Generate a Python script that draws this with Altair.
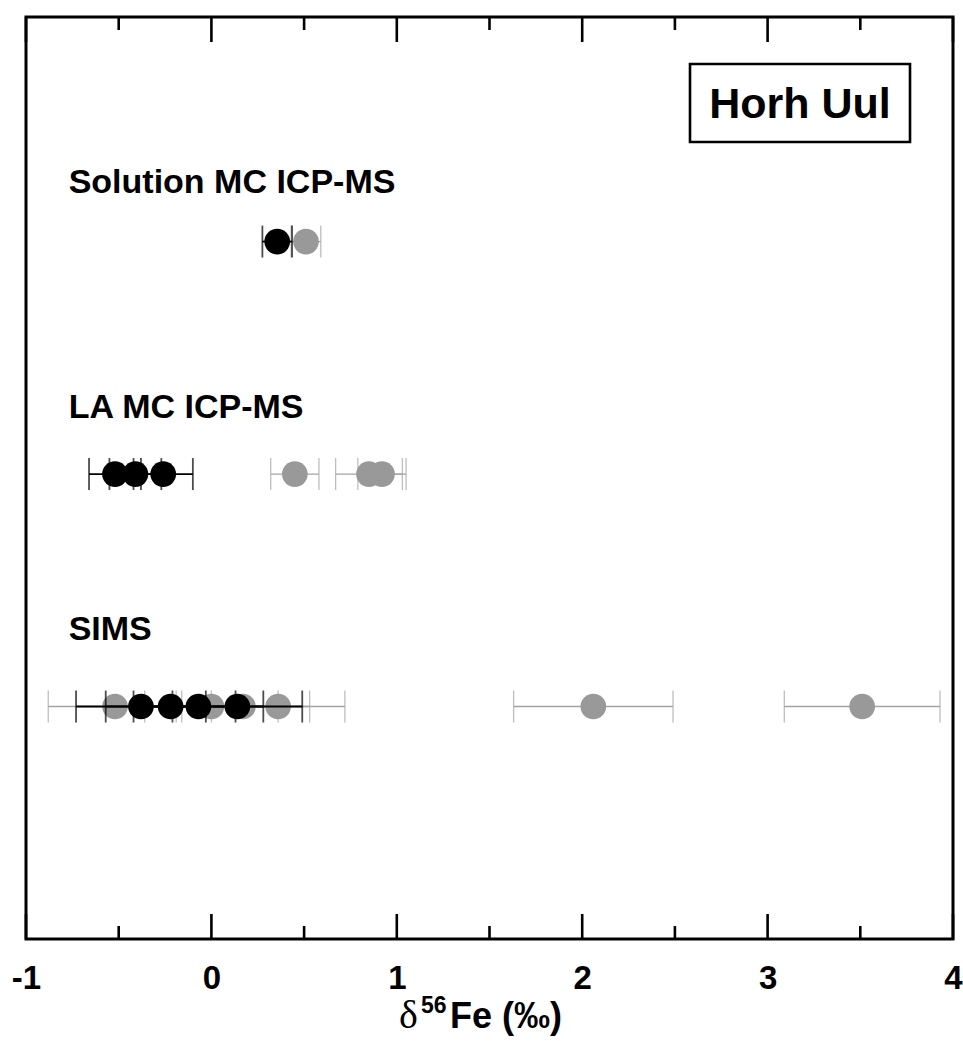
import altair as alt
import pandas as pd

# ---------------- data ----------------
methods = ["Solution MC ICP-MS", "LA MC ICP-MS", "SIMS"]

sol_black = [0.355]
sol_black_err = [0.08]
sol_grey = [0.51]
sol_grey_err = [0.08]

la_black = [-0.52, -0.41, -0.26]
la_black_err = [0.14, 0.14, 0.16]
la_grey = [0.45, 0.85, 0.92]
la_grey_err = [0.13, 0.18, 0.13]

sims_black = [-0.38, -0.22, -0.07, 0.14]
sims_black_err = [0.35, 0.35, 0.35, 0.35]
sims_grey = [-0.52, 0.00, 0.17, 0.36, 2.06, 3.51]
sims_grey_err = [0.36, 0.36, 0.36, 0.36, 0.43, 0.42]

major_ticks = [-1, 0, 1, 2, 3, 4]
minor_ticks = [-0.5, 0.5, 1.5, 2.5, 3.5]
legend_label = "Horh Uul"

# ---------------- layout ----------------
row_pos = {"Solution MC ICP-MS": 3, "LA MC ICP-MS": 2, "SIMS": 1}
label_pos = {"Solution MC ICP-MS": 3.21, "LA MC ICP-MS": 2.24, "SIMS": 1.285}
label_x = -0.77

W, H = 927, 922
FONT = "Liberation Sans"

rows = []
def add(method, group, vals, errs):
    for v, e in zip(vals, errs):
        rows.append(dict(method=method, group=group, value=v, err=e,
                         lo=v - e, hi=v + e, row=row_pos[method]))

add("Solution MC ICP-MS", "grey", sol_grey, sol_grey_err)
add("LA MC ICP-MS", "grey", la_grey, la_grey_err)
add("SIMS", "grey", sims_grey, sims_grey_err)
add("Solution MC ICP-MS", "black", sol_black, sol_black_err)
add("LA MC ICP-MS", "black", la_black, la_black_err)
add("SIMS", "black", sims_black, sims_black_err)
df = pd.DataFrame(rows)

xscale = alt.Scale(domain=[-1, 4], nice=False, zero=False)
yscale = alt.Scale(domain=[0, 3.966], nice=False, zero=False)

layers = []
styles = {"grey": ("#999999", "#a3a3a3", 1.3), "black": ("#000000", "#000000", 1.8)}
for g in ["grey", "black"]:
    fill, bar, sw = styles[g]
    base = alt.Chart(df).transform_filter(alt.datum.group == g)
    layers.append(base.mark_rule(color=bar, strokeWidth=sw).encode(
        x=alt.X("lo:Q", scale=xscale), x2="hi:Q",
        y=alt.Y("row:Q", scale=yscale, axis=None)))
    for f in ["lo", "hi"]:
        layers.append(base.mark_tick(color=bar, orient="vertical", size=32,
                                     thickness=sw).encode(
            x=alt.X(f + ":Q", scale=xscale),
            y=alt.Y("row:Q", scale=yscale, axis=None)))
    layers.append(base.mark_circle(color=fill, opacity=1, size=660).encode(
        x=alt.X("value:Q", scale=xscale,
                axis=alt.Axis(values=major_ticks, labelExpr="'' + datum.value",
                              ticks=False, tickSize=0, domain=False, grid=False,
                              title=None, labelFont=FONT, labelFontWeight="bold",
                              labelFontSize=33, labelColor="black",
                              labelFlush=False, labelOverlap=False,
                              labelPadding=23)),
        y=alt.Y("row:Q", scale=yscale, axis=None)))

# method labels
lab_df = pd.DataFrame({"method": methods,
                       "ly": [label_pos[m] for m in methods],
                       "lx": [label_x] * len(methods)})
layers.append(alt.Chart(lab_df).mark_text(
    align="left", baseline="alphabetic", font=FONT, fontWeight="bold",
    fontSize=34, color="black").encode(
    x=alt.X("lx:Q", scale=xscale), y=alt.Y("ly:Q", scale=yscale, axis=None),
    text="method:N"))

# inward ticks (bottom and top)
maj = pd.DataFrame({"t": major_ticks})
mnr = pd.DataFrame({"t": minor_ticks})
for d, ln in [(maj, 25), (mnr, 13)]:
    layers.append(alt.Chart(d).mark_rule(color="black", strokeWidth=2.6).encode(
        x=alt.X("t:Q", scale=xscale), y=alt.value(H), y2=alt.value(H - ln)))
    layers.append(alt.Chart(d).mark_rule(color="black", strokeWidth=2.6).encode(
        x=alt.X("t:Q", scale=xscale), y=alt.value(0), y2=alt.value(ln)))

# legend box
box_df = pd.DataFrame({"label": [legend_label]})
layers.append(alt.Chart(box_df).mark_rect(fill="white", stroke="black",
                                          strokeWidth=2.6).encode(
    x=alt.value(664), x2=alt.value(884), y=alt.value(47), y2=alt.value(125)))
layers.append(alt.Chart(box_df).mark_text(
    align="center", baseline="middle", font=FONT, fontWeight="bold",
    fontSize=43, color="black").encode(
    x=alt.value(774), y=alt.value(88), text="label:N"))

# axis title built from pieces: delta (serif) + superscript 56 + Fe (‰)
t_df = pd.DataFrame({"a": ["\u03b4"], "b": ["56"], "c": ["Fe (\u2030)"]})
layers.append(alt.Chart(t_df).mark_text(
    align="left", baseline="alphabetic", font="Liberation Serif",
    fontSize=40, color="black").encode(
    x=alt.value(373), y=alt.value(1011), text="a:N"))
layers.append(alt.Chart(t_df).mark_text(
    align="left", baseline="alphabetic", font=FONT, fontWeight="bold",
    fontSize=23, color="black").encode(
    x=alt.value(395), y=alt.value(996), text="b:N"))
layers.append(alt.Chart(t_df).mark_text(
    align="left", baseline="alphabetic", font=FONT, fontWeight="bold",
    fontSize=36, color="black").encode(
    x=alt.value(424), y=alt.value(1011), text="c:N"))

chart = alt.layer(*layers).properties(
    width=W, height=H,
    autosize=alt.AutoSizeParams(type="none"),
    padding={"left": 26, "top": 17, "right": 10, "bottom": 102},
).configure_view(stroke="black", strokeWidth=3)

chart.save("out.html", embed_options={"renderer": "svg", "actions": False})
